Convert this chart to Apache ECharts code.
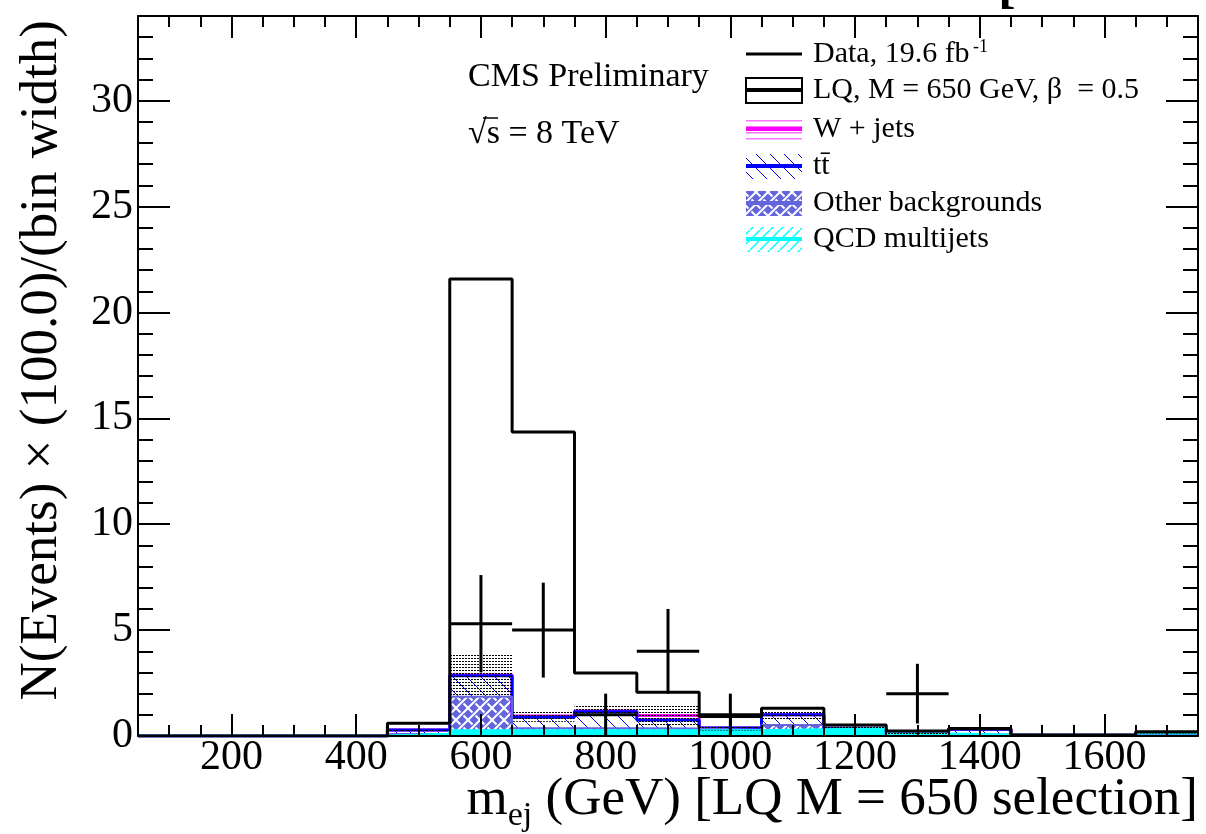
<!DOCTYPE html>
<html><head><meta charset="utf-8">
<script src="https://cdn.jsdelivr.net/npm/echarts@6/dist/echarts.min.js"></script>
<style>html,body{margin:0;padding:0;background:#fff}#c{width:1206px;height:834px}</style>
</head><body><div id="c"></div>
<script>
// ---------------- data ----------------
const binCenters = [100,200,300,400,500,600,700,800,900,1000,1100,1200,1300,1400,1500,1600,1700];
const binWidth = 100;
const qcd      = [0,0,0,0,0.08,0.25,0.25,0.25,0.25,0.25,0.30,0.35,0.10,0.05,0.03,0.03,0.15];
const other    = [0,0,0,0,0.02,1.60,0.12,0.12,0.10,0.05,0.22,0.02,0,0.02,0,0,0];
const ttbar    = [0,0,0,0,0.18,1.00,0.51,0.78,0.40,0.08,0.48,0,0,0.25,0,0,0];
const wjets    = [0,0,0,0,0,0.03,0.07,0.03,0.22,0,0,0,0,0,0,0,0];
const lqSignal = [0,0,0,0,0.32,18.70,13.40,1.79,1.10,0.54,0.31,0.15,0.14,0.04,0.02,0.02,0.05];
const bkgUnc   = [0,0,0,0,0.05,1.04,0.28,0.28,0.50,0.12,0.20,0.08,0.05,0.05,0.02,0.02,0.03];
const dataX    = [600,700,800,900,1000,1300];
const dataY    = [5.3,5,1,4,1,2];
const dataErr  = [2.3,2.24,1,2,1,1.41];
const xTickLabels = [200,400,600,800,1000,1200,1400,1600];
const yTickLabels = [0,5,10,15,20,25,30];

// ---------------- helpers ----------------
const FONT = 'Liberation Serif';
const X_MIN = 50, X_MAX = 1750, Y_MIN = 0, Y_MAX = 34;
const C_W = '#ff00ff', C_TT = '#0000ff', C_OTH = '#6464dc', C_QCD = '#00ffff';

function makePattern(w, h, draw) {
  const c = document.createElement('canvas');
  c.width = w; c.height = h;
  const g = c.getContext('2d');
  draw(g, w, h);
  return { image: c, repeat: 'repeat' };
}
const patW = makePattern(6, 6, (g, w, h) => {
  g.fillStyle = '#fff'; g.fillRect(0, 0, w, h);
  g.fillStyle = '#ff77ff'; g.fillRect(0, 0, w, 1.5);
});
const patTT = makePattern(14, 14, (g, w, h) => {
  g.fillStyle = '#fff'; g.fillRect(0, 0, w, h);
  g.strokeStyle = C_TT; g.lineWidth = 1;
  g.beginPath(); g.moveTo(-1, -1); g.lineTo(15, 15); g.stroke();
});
const patOth = makePattern(12, 12, (g, w, h) => {
  g.fillStyle = C_OTH; g.fillRect(0, 0, w, h);
  g.strokeStyle = '#fff'; g.lineWidth = 2;
  g.beginPath(); g.moveTo(0, 12); g.lineTo(12, 0); g.stroke();
  g.beginPath(); g.moveTo(0, 0); g.lineTo(4.5, 4.5); g.moveTo(7.5, 7.5); g.lineTo(12, 12); g.stroke();
});
const patQCDLeg = makePattern(10, 10, (g, w, h) => {
  g.fillStyle = '#fff'; g.fillRect(0, 0, w, h);
  g.strokeStyle = C_QCD; g.lineWidth = 1.5;
  g.beginPath(); g.moveTo(-1, 11); g.lineTo(11, -1); g.stroke();
});
const patBand = makePattern(3, 3, (g) => {
  g.fillStyle = '#000'; g.fillRect(0, 1, 2, 1);
});

// cumulative stack
const cQCD = qcd.map(v => v);
const cOth = cQCD.map((v, i) => v + other[i]);
const cTT  = cOth.map((v, i) => v + ttbar[i]);
const cW   = cTT.map((v, i) => v + wjets[i]);
const cLQ  = cW.map((v, i) => v + lqSignal[i]);
const zeros = binCenters.map(() => 0);
const bandLo = cW.map((v, i) => Math.max(0, v - bkgUnc[i]));
const bandHi = cW.map((v, i) => v + bkgUnc[i]);

function rectSeries(lo, hi, fill, z) {
  return {
    type: 'custom', z, clip: true, silent: true, animation: false,
    xAxisIndex: 0, yAxisIndex: 0,
    data: binCenters.map((c, i) => [c, lo[i], hi[i]]),
    renderItem(params, api) {
      const c = api.value(0), l = api.value(1), h = api.value(2);
      if (h - l <= 0) return null;
      const p1 = api.coord([c - binWidth / 2, h]);
      const p2 = api.coord([c + binWidth / 2, l]);
      return { type: 'rect', shape: { x: p1[0], y: p1[1], width: p2[0] - p1[0], height: p2[1] - p1[1] }, style: { fill } };
    }
  };
}
function stepSeries(vals, color, width, z) {
  const pts = binCenters.map((c, i) => [c - binWidth / 2, vals[i]]);
  pts.push([binCenters[binCenters.length - 1] + binWidth / 2, vals[vals.length - 1]]);
  return {
    type: 'line', step: 'end', data: pts, symbol: 'none', showSymbol: false, z,
    xAxisIndex: 0, yAxisIndex: 0, silent: true, animation: false,
    lineStyle: { color, width }
  };
}

function xAx(pos, major) {
  return {
    type: 'value', min: X_MIN, max: X_MAX, position: pos, z: 10,
    interval: major ? undefined : 50,
    axisLine: { show: major, onZero: false, lineStyle: { color: '#000', width: 2 } },
    axisTick: major
      ? { show: true, inside: true, length: 22, customValues: xTickLabels, lineStyle: { color: '#000', width: 2 } }
      : { show: true, inside: true, length: 11, lineStyle: { color: '#000', width: 2 } },
    axisLabel: (major && pos === 'bottom')
      ? { show: true, customValues: xTickLabels, formatter: v => String(v), fontFamily: FONT, fontSize: 42, color: '#000', margin: 1 }
      : { show: false },
    splitLine: { show: false }
  };
}
function yAx(pos, major) {
  return {
    type: 'value', min: Y_MIN, max: Y_MAX, position: pos, z: 10,
    interval: major ? undefined : 1,
    axisLine: { show: major, onZero: false, lineStyle: { color: '#000', width: 2 } },
    axisTick: major
      ? { show: true, inside: true, length: 32, customValues: yTickLabels, lineStyle: { color: '#000', width: 2 } }
      : { show: true, inside: true, length: 15, lineStyle: { color: '#000', width: 2 } },
    axisLabel: (major && pos === 'left')
      ? { show: true, customValues: yTickLabels, formatter: v => String(v), fontFamily: FONT, fontSize: 42, color: '#000', margin: 5 }
      : { show: false },
    splitLine: { show: false }
  };
}

// text measurement for axis titles
const mctx = document.createElement('canvas').getContext('2d');
function tw(str, size) { mctx.font = size + 'px "' + FONT + '"'; return mctx.measureText(str).width; }
const XT_FS = 53, XT_SUB = 34;
const xtRest = ' (GeV) [LQ M = 650 selection]';
const xtRestX = 1198 - tw(xtRest, XT_FS);
const xtSubX = xtRestX - tw('ej', XT_SUB);
const xtMX = xtSubX - tw('m', XT_FS);

// legend
const LX = 746, LW = 56, LT = 813, LFS = 30;
const legRows = [54, 90, 129, 166, 203, 239];
function legText(y, txt) {
  return { type: 'text', x: LT, y, style: { text: txt, font: LFS + 'px "' + FONT + '"', fill: '#000', verticalAlign: 'middle', align: 'left' } };
}
function legBox(y, fill, lineColor, border) {
  return [
    { type: 'rect', shape: { x: LX, y: y - 12, width: LW, height: 25 }, style: { fill, stroke: border || null, lineWidth: border ? 2 : 0 } },
    { type: 'line', shape: { x1: LX, y1: y, x2: LX + LW, y2: y }, style: { stroke: lineColor, lineWidth: 4 } }
  ];
}

const graphics = [
  { type: 'text', x: 468, y: 77, style: { text: 'CMS Preliminary', font: '34px "' + FONT + '"', fill: '#000', verticalAlign: 'middle' } },
  { type: 'text', x: 468, y: 134, style: { text: '\u221As = 8 TeV', font: '34px "' + FONT + '"', fill: '#000', verticalAlign: 'middle' } },
  { type: 'line', shape: { x1: 483, y1: 118, x2: 498, y2: 118 }, style: { stroke: '#000', lineWidth: 1.5 } },
  { type: 'line', shape: { x1: LX, y1: legRows[0], x2: LX + LW, y2: legRows[0] }, style: { stroke: '#000', lineWidth: 3 } },
  legText(legRows[0], 'Data, 19.6 fb'),
  { type: 'text', x: 973, y: 47, style: { text: '-1', font: '18px "' + FONT + '"', fill: '#000', verticalAlign: 'middle' } },
  ...legBox(legRows[1], '#fff', '#000', '#000'),
  legText(legRows[1], 'LQ, M = 650 GeV, \u03B2  = 0.5'),
  ...legBox(legRows[2], patW, C_W),
  legText(legRows[2], 'W + jets'),
  ...legBox(legRows[3], patTT, C_TT),
  legText(legRows[3], 'tt\u0304'),
  ...legBox(legRows[4], patOth, C_OTH),
  legText(legRows[4], 'Other backgrounds'),
  ...legBox(legRows[5], patQCDLeg, C_QCD),
  legText(legRows[5], 'QCD multijets'),
  // axis titles
  { type: 'text', x: 42, y: 20, rotation: Math.PI / 2, style: { text: 'N(Events) \u00D7 (100.0)/(bin width)', font: XT_FS + 'px "' + FONT + '"', fill: '#000', align: 'right', verticalAlign: 'middle' } },
  { type: 'text', x: xtMX, y: 800, style: { text: 'm', font: XT_FS + 'px "' + FONT + '"', fill: '#000', verticalAlign: 'middle' } },
  { type: 'text', x: xtSubX, y: 816, style: { text: 'ej', font: XT_SUB + 'px "' + FONT + '"', fill: '#000', verticalAlign: 'middle' } },
  { type: 'text', x: xtRestX, y: 800, style: { text: xtRest, font: XT_FS + 'px "' + FONT + '"', fill: '#000', verticalAlign: 'middle' } },
  // cropped bracket at top
  { type: 'text', x: 998, y: -12, style: { text: '[', font: 'bold ' + XT_FS + 'px "' + FONT + '"', fill: '#000', verticalAlign: 'middle' } }
];

const chart = echarts.init(document.getElementById('c'), null, { renderer: 'canvas' });
chart.setOption({
  animation: false,
  backgroundColor: '#fff',
  textStyle: { fontFamily: FONT },
  grid: { left: 138, right: 8, top: 16, bottom: 98, containLabel: false },
  xAxis: [xAx('bottom', true), xAx('bottom', false), xAx('top', true), xAx('top', false)],
  yAxis: [yAx('left', true), yAx('left', false), yAx('right', true), yAx('right', false)],
  series: [
    rectSeries(cTT, cW, patW, 2),
    rectSeries(cOth, cTT, patTT, 2),
    rectSeries(cQCD, cOth, patOth, 2),
    rectSeries(zeros, cQCD, C_QCD, 2),
    stepSeries(cW, C_W, 3, 3),
    stepSeries(cTT, C_TT, 3, 3),
    stepSeries(cOth, C_OTH, 2, 3),
    stepSeries(cQCD, C_QCD, 3, 3),
    rectSeries(bandLo, bandHi, patBand, 4),
    stepSeries(cLQ, '#000', 3, 5),
    {
      type: 'custom', z: 6, clip: true, silent: true, animation: false,
      xAxisIndex: 0, yAxisIndex: 0,
      data: dataX.map((x, i) => [x, dataY[i], dataErr[i]]),
      renderItem(params, api) {
        const x = api.value(0), y = api.value(1), e = api.value(2);
        const a = api.coord([x - binWidth / 2, y]), b = api.coord([x + binWidth / 2, y]);
        const t = api.coord([x, y + e]), d = api.coord([x, Math.max(0, y - e)]);
        return { type: 'group', children: [
          { type: 'line', shape: { x1: a[0], y1: a[1], x2: b[0], y2: b[1] }, style: { stroke: '#000', lineWidth: 3 } },
          { type: 'line', shape: { x1: t[0], y1: t[1], x2: d[0], y2: d[1] }, style: { stroke: '#000', lineWidth: 3 } }
        ] };
      }
    }
  ],
  graphic: graphics
});
</script></body></html>
